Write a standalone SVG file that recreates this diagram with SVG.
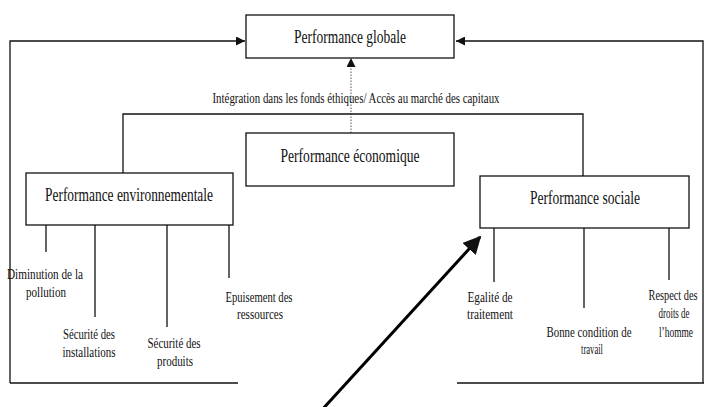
<svg xmlns="http://www.w3.org/2000/svg" width="704" height="407" viewBox="0 0 704 407">
<style>
.box{fill:#fff;stroke:#111;stroke-width:1.3}
.ln{fill:none;stroke:#111;stroke-width:1.3}
.t{font-family:"Liberation Serif","Times New Roman",serif;fill:#111;text-anchor:middle}
.big{font-size:19px}
.sm{font-size:14.5px}
.mid{font-size:15px}
</style>
<defs>
<marker id="ah" viewBox="0 0 10 10" refX="10" refY="5" markerWidth="10" markerHeight="9" markerUnits="userSpaceOnUse" orient="auto">
<path d="M0,0 L10,5 L0,10 z" fill="#111"/>
</marker>
<marker id="ahb" viewBox="0 0 10 10" refX="9" refY="5" markerWidth="6" markerHeight="6" orient="auto">
<path d="M0,0 L10,5 L0,10 z" fill="#111"/>
</marker>
</defs>
<rect width="704" height="407" fill="#fff"/>
<g id="connectors">
<polyline class="ln" points="10,383 10,41 245,41" marker-end="url(#ah)"/>
<line class="ln" x1="10" y1="383" x2="238" y2="383"/>
<polyline class="ln" points="703,383 703,41 456,41" marker-end="url(#ah)"/>
<line class="ln" x1="457" y1="383" x2="704" y2="383"/>
<line x1="351" y1="133" x2="351" y2="58" stroke="#555" stroke-width="1" stroke-dasharray="1.5,1.5" marker-end="url(#ah)"/>
<polyline class="ln" points="123,173 123,114 583,114 583,176"/>
<line class="ln" x1="46" y1="225" x2="46" y2="252"/>
<line class="ln" x1="95" y1="225" x2="95" y2="317"/>
<line class="ln" x1="167" y1="225" x2="167" y2="327"/>
<line class="ln" x1="229" y1="225" x2="229" y2="278"/>
<line class="ln" x1="494" y1="228" x2="494" y2="282"/>
<line class="ln" x1="584" y1="228" x2="584" y2="308"/>
<line class="ln" x1="669" y1="228" x2="669" y2="280"/>
<line x1="320" y1="412" x2="480" y2="237" stroke="#000" stroke-width="3" marker-end="url(#ahb)"/>
</g>
<text class="t mid" x="356" y="103" textLength="287" lengthAdjust="spacingAndGlyphs">Intégration dans les fonds éthiques/ Accès au marché des capitaux</text>
<g id="globale">
<rect class="box" x="246" y="15" width="208" height="43"/>
<text class="t big" x="350" y="43" textLength="112" lengthAdjust="spacingAndGlyphs">Performance globale</text>
</g>
<g id="economique">
<rect class="box" x="246" y="133" width="208" height="53"/>
<text class="t big" x="350" y="162" textLength="139" lengthAdjust="spacingAndGlyphs">Performance économique</text>
</g>
<g id="environnementale">
<rect class="box" x="26" y="173" width="207" height="52"/>
<text class="t big" x="129" y="201" textLength="168" lengthAdjust="spacingAndGlyphs">Performance environnementale</text>
</g>
<g id="sociale">
<rect class="box" x="480" y="176" width="209" height="52"/>
<text class="t big" x="585" y="204" textLength="110" lengthAdjust="spacingAndGlyphs">Performance sociale</text>
</g>
<g id="env-labels">
<text class="t sm" x="45" y="279" textLength="76" lengthAdjust="spacingAndGlyphs">Diminution de la</text>
<text class="t sm" x="46" y="297" textLength="40" lengthAdjust="spacingAndGlyphs">pollution</text>
<text class="t sm" x="89" y="339" textLength="52" lengthAdjust="spacingAndGlyphs">Sécurité des</text>
<text class="t sm" x="89" y="357" textLength="53" lengthAdjust="spacingAndGlyphs">installations</text>
<text class="t sm" x="174" y="348" textLength="53" lengthAdjust="spacingAndGlyphs">Sécurité des</text>
<text class="t sm" x="175" y="366" textLength="36" lengthAdjust="spacingAndGlyphs">produits</text>
<text class="t sm" x="259" y="302" textLength="67" lengthAdjust="spacingAndGlyphs">Epuisement des</text>
<text class="t sm" x="260" y="319" textLength="46" lengthAdjust="spacingAndGlyphs">ressources</text>
</g>
<g id="soc-labels">
<text class="t sm" x="490" y="302" textLength="45" lengthAdjust="spacingAndGlyphs">Egalité de</text>
<text class="t sm" x="490" y="319" textLength="46" lengthAdjust="spacingAndGlyphs">traitement</text>
<text class="t sm" x="589" y="337" textLength="85" lengthAdjust="spacingAndGlyphs">Bonne condition de</text>
<text class="t sm" x="592" y="354" textLength="22" lengthAdjust="spacingAndGlyphs">travail</text>
<text class="t sm" x="673" y="300" textLength="49" lengthAdjust="spacingAndGlyphs">Respect des</text>
<text class="t sm" x="674" y="318" textLength="31" lengthAdjust="spacingAndGlyphs">droits de</text>
<text class="t sm" x="676" y="337" textLength="34" lengthAdjust="spacingAndGlyphs">l’homme</text>
</g>
</svg>
